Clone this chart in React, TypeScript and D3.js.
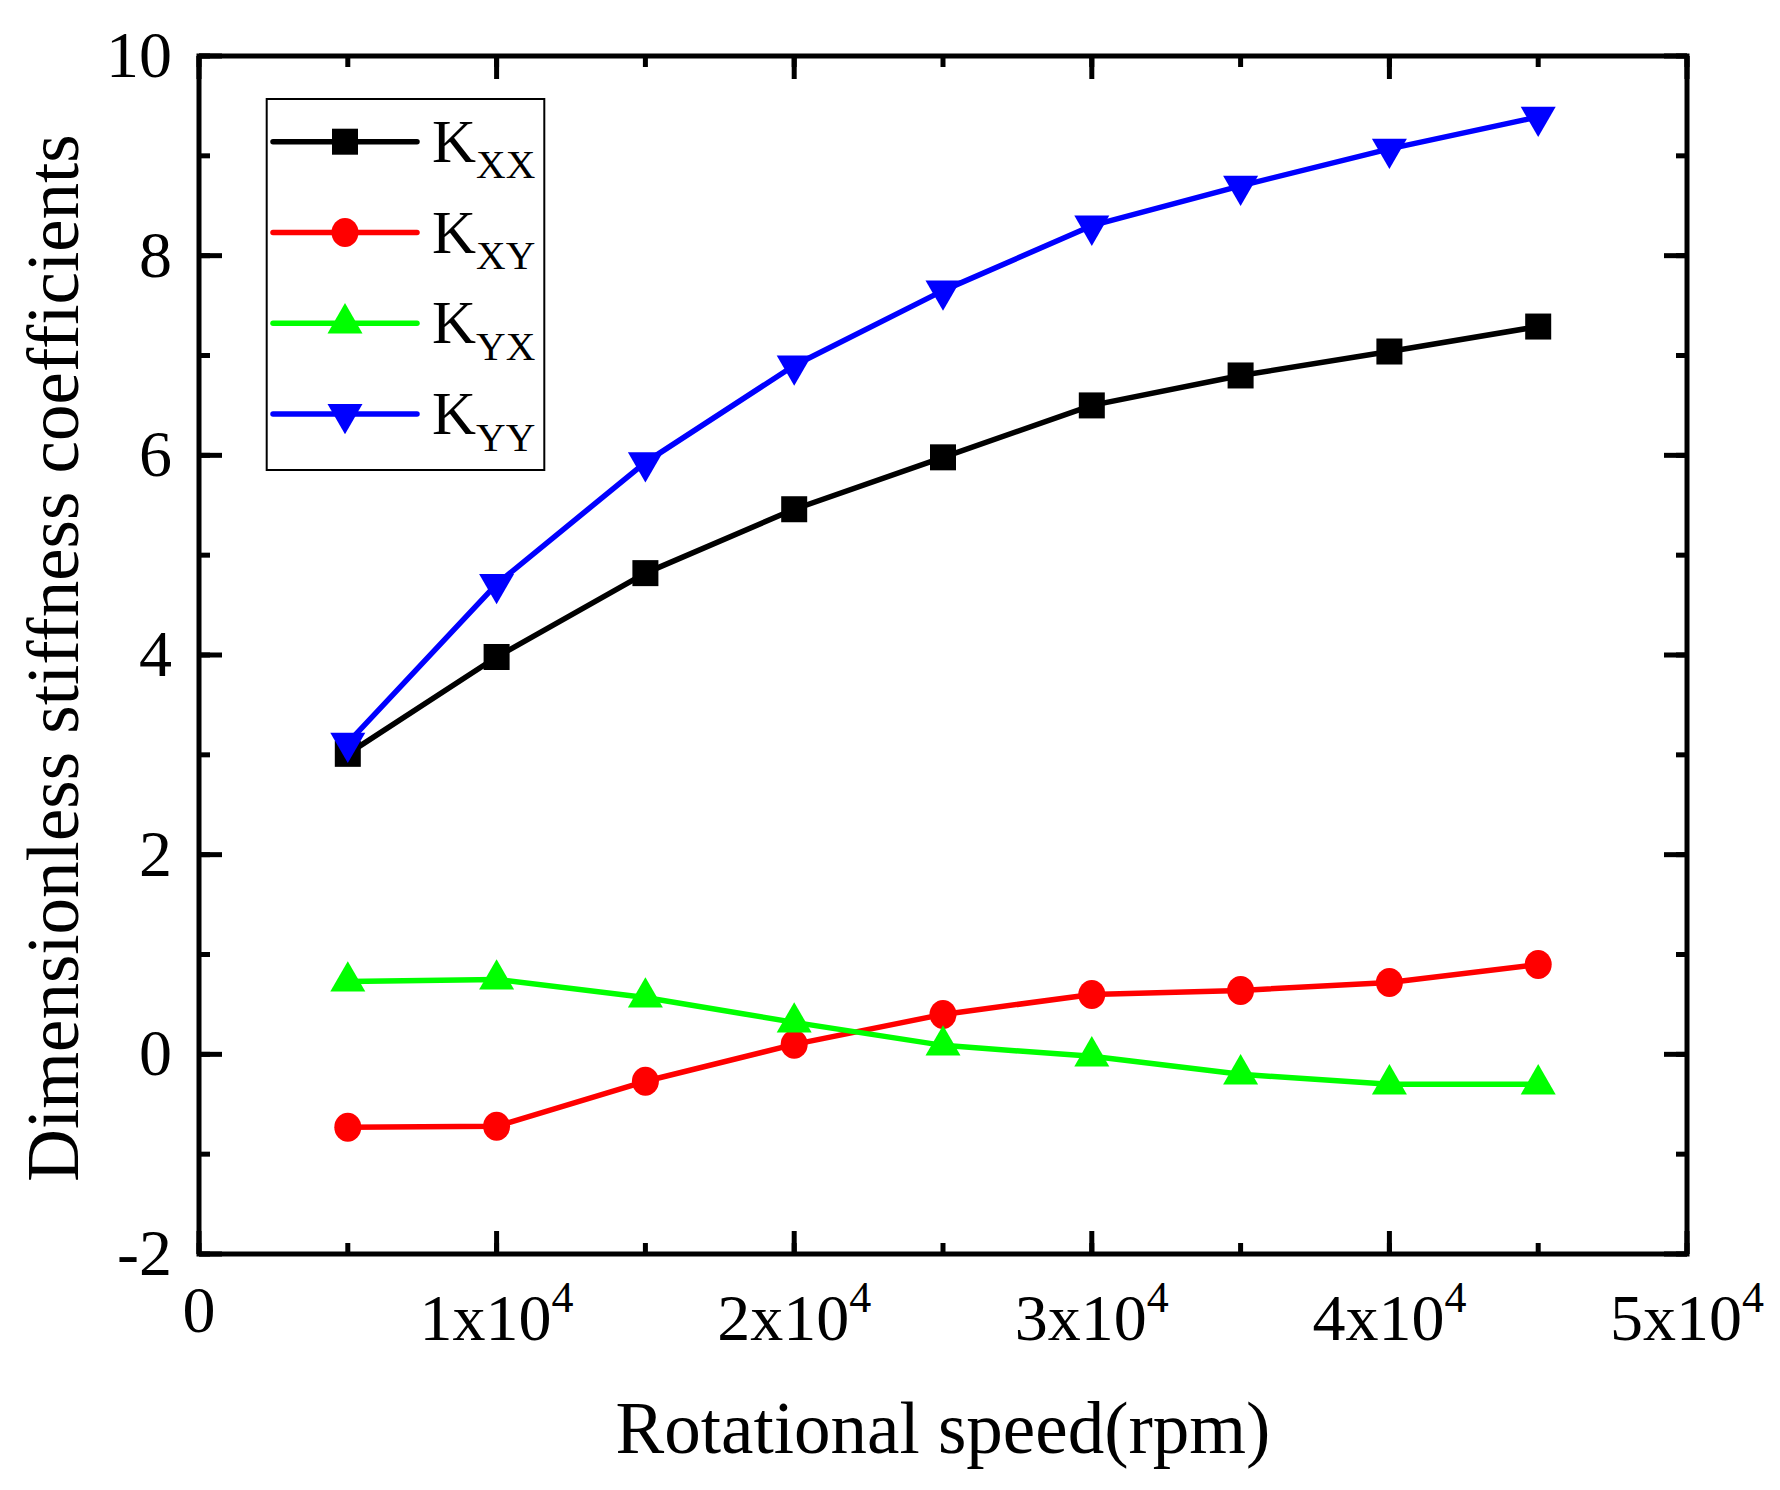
import React from "react";
import * as d3 from "d3";

// rotational speed (rpm)
const speeds = [5000, 10000, 15000, 20000, 25000, 30000, 35000, 40000, 45000];
const kxx = [3.01, 3.98, 4.82, 5.46, 5.98, 6.5, 6.8, 7.04, 7.29];
const kxy = [-0.73, -0.72, -0.27, 0.1, 0.4, 0.6, 0.64, 0.72, 0.9];
const kyx = [0.73, 0.75, 0.57, 0.32, 0.09, -0.02, -0.2, -0.3, -0.3];
const kyy = [3.12, 4.71, 5.93, 6.9, 7.65, 8.3, 8.7, 9.07, 9.39];

const seriesNames = ["XX", "XY", "YX", "YY"];
const seriesColors = ["#000000", "#ff0000", "#00ff00", "#0000ff"];
const seriesMarkers = ["square", "circle", "triangleUp", "triangleDown"];

const xMajorTicks = [0, 10000, 20000, 30000, 40000, 50000];
const xTickMantissa = ["0", "1", "2", "3", "4", "5"];
const yMajorTicks = [-2, 0, 2, 4, 6, 8, 10];

const FONT = "'Liberation Serif', 'Times New Roman', serif";

const W = 1780;
const H = 1490;
const plot = { left: 199, right: 1687, top: 56, bottom: 1254 };
const AXIS_W = 5;

const x = d3.scaleLinear().domain([0, 50000]).range([plot.left, plot.right]);
const y = d3.scaleLinear().domain([-2, 10]).range([plot.bottom, plot.top]);

const xMinor = d3.range(0, 50001, 5000);
const yMinor = d3.range(-2, 10.01, 1);

function Marker({ kind, cx, cy, color }: { kind: string; cx: number; cy: number; color: string }) {
    if (kind === "square") {
        return <rect x={cx - 13} y={cy - 13} width={26} height={26} fill={color} />;
    }
    if (kind === "circle") {
        return <ellipse cx={cx} cy={cy} rx={13.5} ry={14.5} fill={color} />;
    }
    const s = 35;
    const h = (s * Math.sqrt(3)) / 2;
    if (kind === "triangleUp") {
        const p = `M${cx},${cy - (2 * h) / 3} L${cx + s / 2},${cy + h / 3} L${cx - s / 2},${cy + h / 3} Z`;
        return <path d={p} fill={color} />;
    }
    const p = `M${cx},${cy + (2 * h) / 3} L${cx + s / 2},${cy - h / 3} L${cx - s / 2},${cy - h / 3} Z`;
    return <path d={p} fill={color} />;
}

const App: React.FC = () => {
    const allSeries = [kxx, kxy, kyx, kyy];

    const line = d3
        .line<number>()
        .x((_, i) => x(speeds[i]))
        .y((d) => y(d));

    const legendX = 266.7;
    const legendY = 99;
    const rowY0 = 141.7;
    const rowStep = 90.8;

    return (
        <svg
            width={W}
            height={H}
            style={{ position: "absolute", left: 0, top: 0, background: "#fff" }}
            fontFamily={FONT}
        >
            <rect x={0} y={0} width={W} height={H} fill="#fff" />

            {/* minor ticks on all four sides */}
            {xMinor.map((v) => (
                <g key={"xm" + v}>
                    <line x1={x(v)} x2={x(v)} y1={plot.bottom} y2={plot.bottom - 11} stroke="#000" strokeWidth={AXIS_W} />
                    <line x1={x(v)} x2={x(v)} y1={plot.top} y2={plot.top + 11} stroke="#000" strokeWidth={AXIS_W} />
                </g>
            ))}
            {yMinor.map((v) => (
                <g key={"ym" + v}>
                    <line x1={plot.left} x2={plot.left + 11} y1={y(v)} y2={y(v)} stroke="#000" strokeWidth={AXIS_W} />
                    <line x1={plot.right} x2={plot.right - 11} y1={y(v)} y2={y(v)} stroke="#000" strokeWidth={AXIS_W} />
                </g>
            ))}
            {/* major ticks */}
            {xMajorTicks.map((v) => (
                <g key={"xM" + v}>
                    <line x1={x(v)} x2={x(v)} y1={plot.bottom} y2={plot.bottom - 23} stroke="#000" strokeWidth={AXIS_W} />
                    <line x1={x(v)} x2={x(v)} y1={plot.top} y2={plot.top + 23} stroke="#000" strokeWidth={AXIS_W} />
                </g>
            ))}
            {yMajorTicks.map((v) => (
                <g key={"yM" + v}>
                    <line x1={plot.left} x2={plot.left + 23} y1={y(v)} y2={y(v)} stroke="#000" strokeWidth={AXIS_W} />
                    <line x1={plot.right} x2={plot.right - 23} y1={y(v)} y2={y(v)} stroke="#000" strokeWidth={AXIS_W} />
                </g>
            ))}

            {/* frame */}
            <rect
                x={plot.left}
                y={plot.top}
                width={plot.right - plot.left}
                height={plot.bottom - plot.top}
                fill="none"
                stroke="#000"
                strokeWidth={AXIS_W}
            />

            {/* x tick labels */}
            {xMajorTicks.map((v, i) =>
                v === 0 ? (
                    <text key={"xl" + v} x={x(v)} y={1332} fontSize={66} textAnchor="middle">
                        0
                    </text>
                ) : (
                    <text key={"xl" + v} x={x(v)} y={1340} fontSize={66} textAnchor="middle">
                        {xTickMantissa[i]}x10
                        <tspan fontSize={44} dy={-28}>
                            4
                        </tspan>
                    </text>
                )
            )}

            {/* y tick labels */}
            {yMajorTicks.map((v) => (
                <text key={"yl" + v} x={172} y={y(v) + 21} fontSize={66} textAnchor="end">
                    {v}
                </text>
            ))}

            {/* series */}
            {allSeries.map((vals, si) => (
                <g key={"s" + si}>
                    <path d={line(vals) || ""} fill="none" stroke={seriesColors[si]} strokeWidth={5.5} strokeLinejoin="round" />
                    {vals.map((v, i) => (
                        <Marker key={i} kind={seriesMarkers[si]} cx={x(speeds[i])} cy={y(v)} color={seriesColors[si]} />
                    ))}
                </g>
            ))}

            {/* legend */}
            <rect x={legendX} y={legendY} width={277.6} height={371} fill="#fff" stroke="#000" strokeWidth={2} />
            {seriesNames.map((name, i) => {
                const ly = rowY0 + i * rowStep;
                return (
                    <g key={"lg" + name}>
                        <line x1={273} x2={417} y1={ly} y2={ly} stroke={seriesColors[i]} strokeWidth={5.5} strokeLinecap="round" />
                        <Marker kind={seriesMarkers[i]} cx={345} cy={ly} color={seriesColors[i]} />
                        <text x={432} y={ly + 20} fontSize={61}>
                            K
                            <tspan fontSize={41} dy={16.6}>
                                {name}
                            </tspan>
                        </text>
                    </g>
                );
            })}

            {/* axis titles */}
            <text x={943} y={1453} fontSize={73} textAnchor="middle">
                Rotational speed(rpm)
            </text>
            <text transform="translate(78,658) rotate(-90)" fontSize={73} textAnchor="middle">
                Dimensionless stiffness coefficients
            </text>
        </svg>
    );
};

export default App;
